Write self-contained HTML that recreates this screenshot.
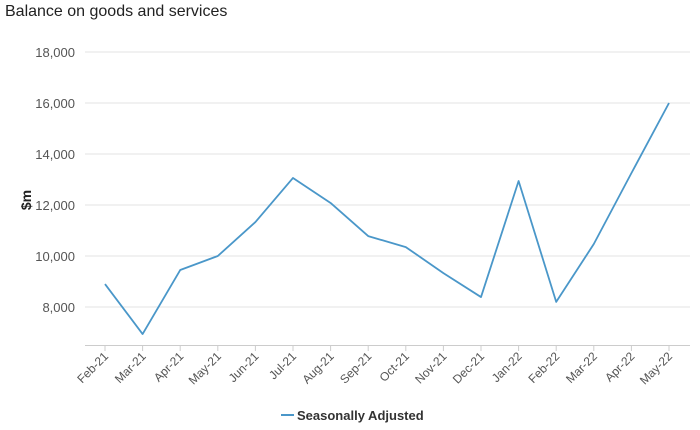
<!DOCTYPE html>
<html><head><meta charset="utf-8"><style>
body{margin:0;background:#fff;font-family:"Liberation Sans",Arial,sans-serif;}
#wrap{position:relative;width:700px;height:430px;overflow:hidden;}
h1{position:absolute;left:5px;top:3px;margin:0;font-size:16px;font-weight:normal;color:#222;}
</style></head><body>
<div id="wrap">
<h1>Balance on goods and services</h1>
<svg id="chart" width="700" height="430" style="position:absolute;left:0;top:0"></svg>
</div>
<script>
const categories=["Feb-21","Mar-21","Apr-21","May-21","Jun-21","Jul-21","Aug-21","Sep-21","Oct-21","Nov-21","Dec-21","Jan-22","Feb-22","Mar-22","Apr-22","May-22"];
const seriesValues=[8900,6940,9450,10000,11330,13060,12080,10780,10350,9330,8390,12940,8200,10470,13250,16000];
const yTicks=[8000,10000,12000,14000,16000,18000];
const seriesName="Seasonally Adjusted";
const NS="http://www.w3.org/2000/svg";
const svg=document.getElementById('chart');
const x0=105,x1=669,gl=85,gr=690;
function xs(i){return x0+(x1-x0)*i/(categories.length-1);}
function ys(v){return 307-(v-8000)*51/2000;}
function mk(t,a){const e=document.createElementNS(NS,t);for(const k in a)e.setAttribute(k,a[k]);svg.appendChild(e);return e;}
yTicks.forEach(v=>{
 const l=mk('line',{x1:gl,x2:gr,y1:ys(v),y2:ys(v),stroke:'#e3e3e3','stroke-width':1});
 
 
 const t=mk('text',{x:75,y:ys(v)+5,'text-anchor':'end','font-size':'13',fill:'#555'});
 t.textContent=v.toLocaleString('en-US');
 
 
});
const ax=mk('line',{x1:gl,x2:gr,y1:345.5,y2:345.5,stroke:'#ccc','stroke-width':1});


categories.forEach((c,i)=>{
 const x=xs(i);
 const tk=mk('line',{x1:x,x2:x,y1:345,y2:351,stroke:'#ccc'});
 
 
 const t=mk('text',{x:x+4,y:357,'text-anchor':'end','font-size':'12',fill:'#555',transform:`rotate(-45 ${x+4} 357)`});
 t.textContent=c;
 
 
});
const yt=mk('text',{x:31,y:200,'text-anchor':'middle','font-size':'14','font-weight':'bold',fill:'#222',transform:'rotate(-90 31 200)'});
yt.textContent='$m';


const p=mk('polyline',{points:seriesValues.map((v,i)=>xs(i)+','+ys(v)).join(' '),fill:'none',stroke:'#4a97c9','stroke-width':1.8,'stroke-linejoin':'round'});


const ll=mk('line',{x1:281,x2:294,y1:415,y2:415,stroke:'#4a97c9','stroke-width':2});


const lt=mk('text',{x:297,y:420,'font-size':'13','font-weight':'bold',fill:'#333'});
lt.textContent=seriesName;


</script>
</body></html>
